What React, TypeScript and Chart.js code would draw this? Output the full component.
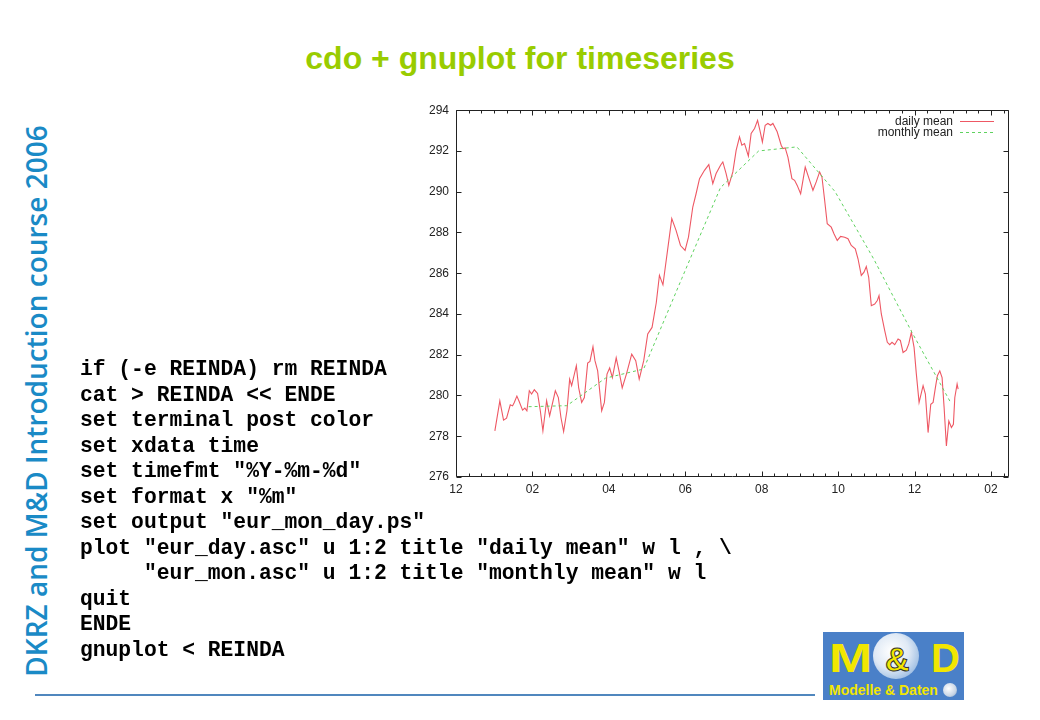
import React, { useEffect, useRef } from "react";
import { Chart, registerables } from "chart.js";

Chart.register(...registerables);

// x values are in months counted from the "12" tick (December of previous year)
const dailyX = [
  1.017, 1.147, 1.244, 1.323, 1.42, 1.48, 1.525, 1.593, 1.656, 1.742, 1.802, 1.855,
  1.918, 1.978, 2.049, 2.135, 2.206, 2.274, 2.371, 2.45, 2.599, 2.678, 2.746, 2.816,
  2.903, 2.974, 3.026, 3.149, 3.209, 3.288, 3.359, 3.445, 3.505, 3.584, 3.636, 3.707,
  3.812, 3.883, 3.951, 4.021, 4.092, 4.192, 4.265, 4.349, 4.459, 4.598, 4.703, 4.794,
  4.912, 5.017, 5.13, 5.24, 5.323, 5.415, 5.646, 5.758, 5.874, 5.994, 6.083, 6.196,
  6.282, 6.372, 6.502, 6.615, 6.72, 6.806, 6.922, 6.982, 7.068, 7.139, 7.244, 7.33,
  7.419, 7.48, 7.55, 7.65, 7.723, 7.812, 7.891, 7.951, 8.017, 8.09, 8.161, 8.232,
  8.292, 8.404, 8.509, 8.554, 8.614, 8.685, 8.79, 8.86, 8.928, 9.018, 9.138, 9.253,
  9.34, 9.426, 9.515, 9.576, 9.646, 9.714, 9.819, 9.89, 9.976, 10.065, 10.17, 10.257,
  10.343, 10.448, 10.519, 10.605, 10.676, 10.736, 10.799, 10.867, 10.956, 11.024, 11.069, 11.129,
  11.218, 11.286, 11.349, 11.409, 11.48, 11.567, 11.627, 11.698, 11.784, 11.847, 11.915, 11.986,
  12.046, 12.117, 12.222, 12.282, 12.353, 12.423, 12.484, 12.544, 12.596, 12.659, 12.719, 12.772,
  12.832, 12.895, 12.963, 13.015, 13.052, 13.112, 13.139,
];
const dailyMean = [
  278.26, 279.74, 278.79, 278.89, 279.54, 279.49, 279.66, 279.97, 279.69, 279.28, 279.38, 279.25,
  280.23, 280.07, 280.28, 280.1, 279.25, 278.26, 279.74, 279.0, 280.23, 279.9, 278.92, 278.23,
  279.25, 280.8, 280.48, 281.46, 280.39, 279.66, 279.9, 281.59, 281.67, 282.39, 281.71, 281.21,
  279.25, 279.66, 281.05, 281.35, 280.88, 281.85, 281.21, 280.37, 281.05, 282.03, 281.71, 280.8,
  281.71, 283.02, 283.34, 284.55, 285.9, 285.43, 288.68, 288.1, 287.36, 287.12, 287.77, 289.25,
  289.9, 290.64, 291.05, 291.33, 290.4, 290.89, 291.3, 291.46, 290.89, 290.31, 290.97, 292.03,
  292.69, 292.28, 292.36, 291.75, 292.86, 293.1, 293.5, 293.02, 292.44, 293.26, 293.35, 293.26,
  293.35, 292.94, 292.28, 292.12, 292.15, 291.7, 290.64, 290.56, 290.31, 289.9, 291.21, 290.56,
  290.07, 290.48, 290.97, 290.72, 289.58, 288.43, 288.26, 287.94, 287.61, 287.81, 287.77, 287.69,
  287.36, 287.2, 286.71, 285.89, 286.05, 286.33, 285.8, 284.41, 284.49, 284.66, 284.9, 284.0,
  283.18, 282.61, 282.49, 282.61, 282.49, 282.77, 282.7, 282.11, 282.22, 282.53, 283.1, 282.36,
  281.05, 279.66, 280.48, 280.07, 278.18, 279.57, 279.66, 280.39, 280.97, 281.21, 280.88, 279.41,
  277.52, 278.75, 278.43, 278.59, 279.9, 280.56, 280.31,
];
const monthlyX = [1.9, 2.9, 3.91, 4.91, 5.91, 6.92, 7.92, 8.92, 9.92, 10.93, 11.93, 12.93];
const monthlyMean = [279.45, 279.5, 280.85, 281.3, 285.75, 290.2, 292.0, 292.2, 290.0, 286.7, 283.1, 279.7];

const xTickLabels = ["12", "02", "04", "06", "08", "10", "12", "02"];
const xTickValues = [0, 2, 4, 6, 8, 10, 12, 14];
const yTickValues = [276, 278, 280, 282, 284, 286, 288, 290, 292, 294];
const seriesLabels = ["daily mean", "monthly mean"];

const slideTitle = "cdo + gnuplot for timeseries";
const sideTitle = "DKRZ and M&D Introduction course 2006";
const codeLines = [
  "if (-e REINDA) rm REINDA",
  "cat > REINDA << ENDE",
  "set terminal post color",
  "set xdata time",
  'set timefmt "%Y-%m-%d"',
  'set format x "%m"',
  'set output "eur_mon_day.ps"',
  'plot "eur_day.asc" u 1:2 title "daily mean" w l , \\',
  '     "eur_mon.asc" u 1:2 title "monthly mean" w l',
  "quit",
  "ENDE",
  "gnuplot < REINDA",
];

const RED = "rgb(238,88,100)";
const GREEN = "rgb(95,210,95)";
const SERIES_COLORS = [RED, GREEN];
const AXIS_FONT = { family: '"Liberation Sans", Arial, Helvetica, sans-serif', size: 12 };

const gnuplotFrame = {
  id: "gnuplotFrame",
  afterDraw(chart: any) {
    const { ctx, chartArea: a, scales } = chart;
    const x = scales.x;
    const y = scales.y;
    ctx.save();
    ctx.strokeStyle = "#222";
    ctx.lineWidth = 1;
    const L = Math.round(a.left) + 0.5;
    const R = Math.round(a.right) - 0.5;
    const T = Math.round(a.top) + 0.5;
    const B = Math.round(a.bottom) - 0.5;
    ctx.beginPath();
    ctx.rect(L, T, R - L, B - T);
    ctx.stroke();
    ctx.beginPath();
    for (let i = 0; i / 3 <= x.max + 1e-9; i++) {
      const px = Math.round(x.getPixelForValue(i / 3)) + 0.5;
      const len = i % 6 === 0 ? 5 : 3;
      ctx.moveTo(px, B);
      ctx.lineTo(px, B - len);
      ctx.moveTo(px, T);
      ctx.lineTo(px, T + len);
    }
    yTickValues.forEach((v) => {
      const py = Math.round(y.getPixelForValue(v)) + 0.5;
      ctx.moveTo(L, py);
      ctx.lineTo(L + 5, py);
      ctx.moveTo(R, py);
      ctx.lineTo(R - 5, py);
    });
    ctx.stroke();

    // key (legend) top-right inside the frame
    ctx.font = '12px "Liberation Sans", Arial, Helvetica, sans-serif';
    ctx.textAlign = "right";
    ctx.textBaseline = "middle";
    chart.data.datasets.forEach((ds: any, i: number) => {
      const ly = a.top + 11 + i * 11;
      ctx.fillStyle = "#222";
      ctx.fillText(ds.label, a.right - 56, ly);
      const x0 = Math.round(a.right - 49);
      const x1 = Math.round(a.right - 15);
      const yy = Math.round(ly);
      ctx.fillStyle = SERIES_COLORS[i];
      if (i === 1) {
        for (let xx = x0; xx < x1; xx += 6) ctx.fillRect(xx, yy, Math.min(3, x1 - xx), 1);
      } else {
        ctx.fillRect(x0, yy, x1 - x0, 1);
      }
    });
    ctx.restore();
  },
};

function GnuplotChart() {
  const ref = useRef<HTMLCanvasElement | null>(null);
  useEffect(() => {
    if (!ref.current) return;
    const chart = new Chart(ref.current, {
      type: "scatter",
      data: {
        datasets: [
          {
            label: seriesLabels[0],
            data: dailyX.map((v, i) => ({ x: v, y: dailyMean[i] })),
            showLine: true,
            borderColor: RED,
            backgroundColor: RED,
            borderWidth: 1.1,
            pointRadius: 0,
            tension: 0,
            order: 1,
          },
          {
            label: seriesLabels[1],
            data: monthlyX.map((v, i) => ({ x: v, y: monthlyMean[i] })),
            showLine: true,
            borderColor: GREEN,
            backgroundColor: GREEN,
            borderWidth: 1,
            borderDash: [3, 3],
            pointRadius: 0,
            tension: 0,
            order: 0,
          },
        ],
      },
      options: {
        animation: false,
        responsive: false,
        maintainAspectRatio: false,
        layout: { padding: { top: 6, right: 11, left: 0, bottom: 0 } },
        plugins: { legend: { display: false }, tooltip: { enabled: false } },
        scales: {
          x: {
            type: "linear",
            min: 0,
            max: 14.47,
            grid: { display: false, drawTicks: false },
            border: { display: false },
            afterBuildTicks: (s: any) => {
              s.ticks = xTickValues.map((v) => ({ value: v }));
            },
            afterFit: (s: any) => {
              s.height = 20;
            },
            ticks: {
              autoSkip: false,
              maxRotation: 0,
              padding: 5,
              color: "#222",
              font: AXIS_FONT,
              callback: (v: any) => {
                const idx = xTickValues.indexOf(Number(v));
                return idx >= 0 ? xTickLabels[idx] : "";
              },
            },
          },
          y: {
            type: "linear",
            min: 276,
            max: 294,
            grid: { display: false, drawTicks: false },
            border: { display: false },
            afterBuildTicks: (s: any) => {
              s.ticks = yTickValues.map((v) => ({ value: v }));
            },
            afterFit: (s: any) => {
              s.width = 46;
            },
            ticks: { padding: 7, color: "#222", font: AXIS_FONT },
          },
        },
      },
      plugins: [gnuplotFrame],
    });
    return () => chart.destroy();
  }, []);
  return (
    <canvas
      ref={ref}
      width={610}
      height={401}
      style={{ position: "absolute", left: 410, top: 96, width: 610, height: 401 }}
    />
  );
}

export default function App() {
  return (
    <div
      style={{
        position: "absolute",
        left: 0,
        top: 0,
        width: 1040,
        height: 720,
        background: "#fff",
        overflow: "hidden",
      }}
    >
      <div
        style={{
          position: "absolute",
          left: 520,
          top: 58,
          transform: "translate(-50%, -50%)",
          whiteSpace: "nowrap",
          font: 'bold 32px "Liberation Sans", Arial, sans-serif',
          color: "#99cc00",
        }}
      >
        {slideTitle}
      </div>
      <div
        style={{
          position: "absolute",
          left: 36,
          top: 401,
          transform: "translate(-50%, -50%) rotate(-90deg)",
          whiteSpace: "nowrap",
          font: '600 28px "Open Sans", sans-serif',
          color: "#1a8ac6",
        }}
      >
        {sideTitle}
      </div>
      <GnuplotChart />
      <pre
        style={{
          position: "absolute",
          left: 80,
          top: 357,
          margin: 0,
          font: 'bold 21.3px "Liberation Mono", "Courier New", monospace',
          lineHeight: "25.55px",
          color: "#000",
        }}
      >
        {codeLines.join("\n")}
      </pre>
      <div
        style={{
          position: "absolute",
          left: 35,
          top: 694,
          width: 780,
          height: 2,
          background: "rgb(80,135,190)",
        }}
      />
      <div
        style={{
          position: "absolute",
          left: 823,
          top: 632,
          width: 141,
          height: 68,
          background: "#4a80c8",
          overflow: "hidden",
        }}
      >
        <div
          style={{
            position: "absolute",
            left: 50,
            top: 1,
            width: 46,
            height: 46,
            borderRadius: "50%",
            background: "radial-gradient(circle at 40% 40%, #ffffff 0%, #dfe9f5 45%, #6f9fd6 100%)",
          }}
        />
        <div
          style={{
            position: "absolute",
            left: 6,
            top: 6,
            font: 'bold 40px "Liberation Sans", Arial, sans-serif',
            color: "#f2e600",
            lineHeight: "40px",
            transform: "scaleX(1.3)",
            transformOrigin: "left top",
          }}
        >
          M
        </div>
        <div
          style={{
            position: "absolute",
            left: 62,
            top: 10,
            font: 'bold 34px "Liberation Sans", Arial, sans-serif',
            color: "#f2e600",
            lineHeight: "34px",
            WebkitTextStroke: "1px #333",
          }}
        >
          &amp;
        </div>
        <div
          style={{
            position: "absolute",
            left: 108,
            top: 6,
            font: 'bold 40px "Liberation Sans", Arial, sans-serif',
            color: "#f2e600",
            lineHeight: "40px",
          }}
        >
          D
        </div>
        <div
          style={{
            position: "absolute",
            left: 6,
            top: 50,
            font: 'bold 14px "Liberation Sans", Arial, sans-serif',
            color: "#f2e600",
            lineHeight: "16px",
            whiteSpace: "nowrap",
          }}
        >
          Modelle &amp; Daten
        </div>
        <div
          style={{
            position: "absolute",
            left: 120,
            top: 51,
            width: 14,
            height: 14,
            borderRadius: "50%",
            background: "radial-gradient(circle at 40% 40%, #ffffff 0%, #c9d6e6 60%, #7f9cc0 100%)",
          }}
        />
      </div>
    </div>
  );
}
